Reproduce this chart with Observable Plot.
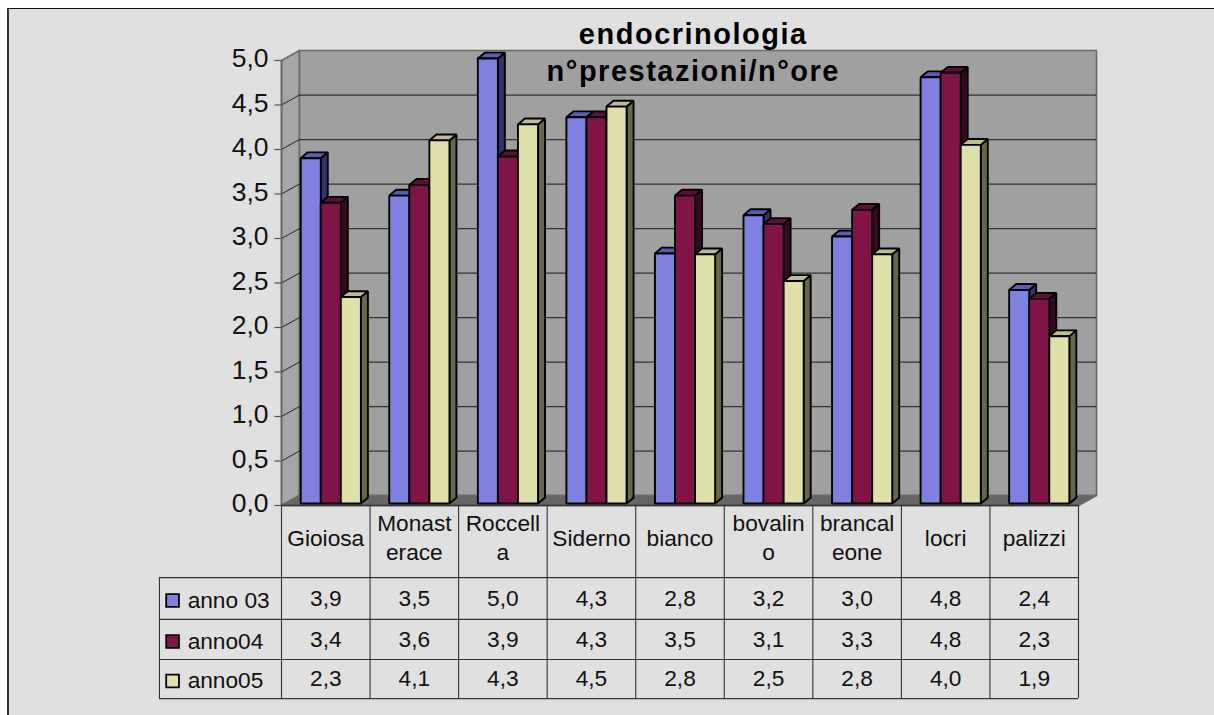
<!DOCTYPE html>
<html>
<head>
<meta charset="utf-8">
<script src="https://cdn.jsdelivr.net/npm/d3@7"></script>
<script src="https://cdn.jsdelivr.net/npm/@observablehq/plot@0.6"></script>
<style>
html,body{margin:0;padding:0;background:#fff;overflow:hidden;width:1214px;height:715px}
#panel{position:absolute;left:7px;top:8px;right:0;bottom:0;background:#e0e0e0;border-top:1.5px solid #111;border-left:2px solid #333}
#chart{position:absolute;left:0;top:0}
#chart svg{background:transparent;display:block}
</style>
</head>
<body>
<div id="panel"></div>
<div id="chart"></div>
<script>
const categories = ["Gioiosa","Monast\nerace","Roccell\na","Siderno","bianco","bovalin\no","brancal\neone","locri","palizzi"];
const seriesNames = ["anno 03","anno04","anno05"];
const anno03 = [3.88,3.46,5.0,4.34,2.81,3.24,3.0,4.79,2.4];
const anno04 = [3.38,3.58,3.9,4.34,3.46,3.14,3.3,4.84,2.3];
const anno05 = [2.32,4.08,4.26,4.46,2.8,2.5,2.8,4.03,1.88];
const yTicks = [0,0.5,1,1.5,2,2.5,3,3.5,4,4.5,5];
const titleLines = ["endocrinologia","n°prestazioni/n°ore"];

const series = [anno03, anno04, anno05];
const palette = [
  {front:"#8080e0", top:"#5c5cb0", side:"#33336c"},
  {front:"#801447", top:"#5e0f35", side:"#340820"},
  {front:"#e0e0ab", top:"#bdbd8e", side:"#666648"}
];
const comma = v => d3.format(".1f")(v).replace(".", ",");

// chart geometry, in scale units (category widths / value units)
const wallDX = 0.203, wallDY = 0.112;
const barStart = 0.217, barW = 0.2265, barPlane = 0.022, barDX = 0.079, barDY = 0.066;
const rowEdges = [0,-0.81,-1.28,-1.73,-2.17];
const legendLeft = -1.378;
const tickLen = 0.08;

// room
const room = [
  {id:"left", fill:"#a6a6a6", pts:[[0,0],[wallDX,wallDY],[wallDX,5+wallDY],[0,5]]},
  {id:"back", fill:"#a0a0a0", pts:[[wallDX,wallDY],[9+wallDX,wallDY],[9+wallDX,5+wallDY],[wallDX,5+wallDY]]},
  {id:"floor", fill:"#666666", pts:[[0,0],[9,0],[9+wallDX,wallDY],[wallDX,wallDY]]}
].flatMap(f => f.pts.map(([x,y]) => ({x,y,id:f.id,fill:f.fill})));

// bar faces, in draw order: each bar's side, top, then front
const faces = [];
categories.forEach((c,i) => {
  series.forEach((vals,s) => {
    const x0 = i + barStart + s*barW, x1 = x0 + barW, v = vals[i] + barPlane, b = barPlane;
    const add = (part, fill, pts) => pts.forEach(([x,y]) => faces.push({x,y,fill,id:`${i}-${s}-${part}`}));
    add("side", palette[s].side, [[x1,b],[x1+barDX,b+barDY],[x1+barDX,v+barDY],[x1,v]]);
    add("top", palette[s].top, [[x0,v],[x1,v],[x1+barDX,v+barDY],[x0+barDX,v+barDY]]);
    add("front", palette[s].front, [[x0,b],[x1,b],[x1,v],[x0,v]]);
  });
});

const rowMid = d3.pairs(rowEdges).map(([a,b]) => (a+b)/2);
const cells = series.flatMap((vals,s) => vals.map((v,i) => ({x:i+0.5, y:rowMid[s+1], t:comma(v)})));
const legend = seriesNames.map((n,s) => ({n, y:rowMid[s+1], c:palette[s].front}));
const font = "Liberation Sans, Arial, sans-serif";

const plot = Plot.plot({
  width:1214, height:715,
  marginLeft:281, marginRight:136, marginTop:60, marginBottom:210,
  x:{type:"linear", domain:[0,9], axis:null},
  y:{type:"linear", domain:[0,5], axis:null},
  color:{type:"identity"},
  style:{background:"transparent", fontFamily:font, overflow:"visible"},
  marks:[
    Plot.line(room,{x:"x",y:"y",z:"id",fill:"fill",stroke:"#6a6a6a",strokeWidth:1.6,curve:"linear-closed"}),
    // grid on back wall and side wall
    Plot.ruleY(yTicks.slice(1,-1),{y:d=>d+wallDY,x1:wallDX,x2:9+wallDX,stroke:"#333",strokeWidth:1.3}),
    Plot.link(yTicks.slice(1,-1),{x1:0,y1:d=>d,x2:wallDX,y2:d=>d+wallDY,stroke:"#222",strokeWidth:1}),
    Plot.ruleX([0],{y1:0,y2:5,stroke:"#666",strokeWidth:1.6}),
    Plot.link(yTicks,{x1:-tickLen,y1:d=>d,x2:0,y2:d=>d,stroke:"#555",strokeWidth:1.2}),
    Plot.axisY({ticks:yTicks,tickFormat:comma,tickSize:0,tickPadding:13,dy:-1.5,fontSize:26.5,fill:"#111",label:null}),
    // bars
    Plot.line(faces,{x:"x",y:"y",z:"id",fill:"fill",stroke:"#000",strokeWidth:1.9,strokeLinejoin:"miter",curve:"linear-closed"}),
    Plot.ruleY([0],{x1:0,x2:9,stroke:"#333",strokeWidth:1.6}),
    // data table
    Plot.ruleX(d3.range(10),{y1:0,y2:rowEdges[4],stroke:"#333",strokeWidth:1.1}),
    Plot.ruleX([legendLeft],{y1:rowEdges[1],y2:rowEdges[4],stroke:"#333",strokeWidth:1.1}),
    Plot.ruleY(rowEdges.slice(1),{x1:legendLeft,x2:9,stroke:"#333",strokeWidth:1.1}),
    Plot.text(categories,{x:(d,i)=>i+0.5,y:rowMid[0],dy:-5,text:d=>d,fontSize:22.7,lineHeight:1.25,fill:"#111"}),
    Plot.text(cells,{x:"x",y:"y",text:"t",fontSize:22.7,fill:"#111"}),
    Plot.dot(legend,{x:legendLeft+0.148,y:"y",dy:2,symbol:"square",r:7.2,fill:"c",stroke:"#000",strokeWidth:1.8}),
    Plot.text(legend,{x:legendLeft+0.318,y:"y",dy:2,text:"n",textAnchor:"start",fontSize:22.7,fill:"#111"}),
    // title
    Plot.text(titleLines,{x:4.65,y:(d,i)=>i===0?5.29:4.87,text:d=>d,fontSize:29,fontWeight:"bold",fill:"#000"})
  ]
});
d3.select(plot).selectAll("text").filter(function(){return titleLines.includes(this.textContent);}).style("letter-spacing","1.5px");
document.getElementById("chart").append(plot);
</script>
</body>
</html>
